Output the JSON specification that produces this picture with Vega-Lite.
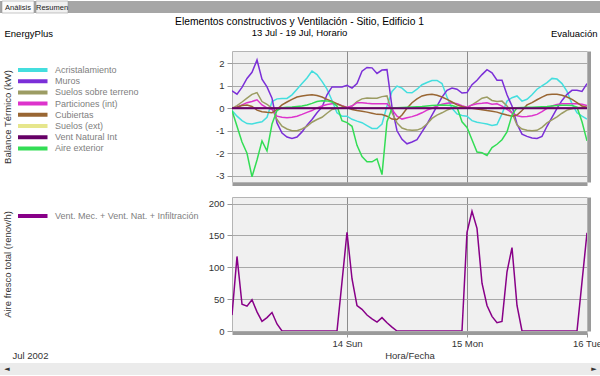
{
  "$schema": "https://vega.github.io/schema/vega-lite/v6.json",
  "padding": 0,
  "background": "white",
  "spacing": 2,
  "config": {"font": "Liberation Sans", "view": {"stroke": null}},
  "resolve": {"scale": {"color": "independent", "x": "independent", "y": "independent"}, "legend": {"color": "independent"}},
  "datasets": {
    "pestanas": [{"tab": "Análisis"}, {"tab": "Resumen"}],
    "barra": [{"b": "◄"}, {"b": "►"}],
    "horas": [
      {"t":"2002-07-13T01:00","Acristalamiento":-0.1,"Muros":0.78,"Suelos sobre terreno":0,"Particiones (int)":0,"Cubiertas":0,"Suelos (ext)":0,"Vent Natural Int":0,"Aire exterior":-0.1,"ach":25},
      {"t":"2002-07-13T02:00","Acristalamiento":-0.35,"Muros":0.63,"Suelos sobre terreno":0.12,"Particiones (int)":0.05,"Cubiertas":0.05,"Suelos (ext)":0,"Vent Natural Int":0,"Aire exterior":-0.8,"ach":117},
      {"t":"2002-07-13T03:00","Acristalamiento":-0.55,"Muros":0.93,"Suelos sobre terreno":0.28,"Particiones (int)":0.15,"Cubiertas":0.12,"Suelos (ext)":0,"Vent Natural Int":0,"Aire exterior":-1.5,"ach":42},
      {"t":"2002-07-13T04:00","Acristalamiento":-0.68,"Muros":1.33,"Suelos sobre terreno":0.45,"Particiones (int)":0.25,"Cubiertas":0.15,"Suelos (ext)":0,"Vent Natural Int":0,"Aire exterior":-2.0,"ach":39},
      {"t":"2002-07-13T05:00","Acristalamiento":-0.7,"Muros":1.6,"Suelos sobre terreno":0.62,"Particiones (int)":0.3,"Cubiertas":0.08,"Suelos (ext)":0,"Vent Natural Int":0,"Aire exterior":-3.05,"ach":49},
      {"t":"2002-07-13T06:00","Acristalamiento":-0.64,"Muros":2.15,"Suelos sobre terreno":0.7,"Particiones (int)":0.38,"Cubiertas":-0.08,"Suelos (ext)":0,"Vent Natural Int":0,"Aire exterior":-2.3,"ach":30},
      {"t":"2002-07-13T07:00","Acristalamiento":-0.6,"Muros":1.3,"Suelos sobre terreno":0.3,"Particiones (int)":0.15,"Cubiertas":-0.15,"Suelos (ext)":0,"Vent Natural Int":0,"Aire exterior":-1.45,"ach":15},
      {"t":"2002-07-13T08:00","Acristalamiento":-0.4,"Muros":0.95,"Suelos sobre terreno":0.18,"Particiones (int)":0.02,"Cubiertas":-0.18,"Suelos (ext)":0,"Vent Natural Int":0,"Aire exterior":-1.9,"ach":21},
      {"t":"2002-07-13T09:00","Acristalamiento":0.3,"Muros":0.45,"Suelos sobre terreno":0.0,"Particiones (int)":-0.05,"Cubiertas":-0.2,"Suelos (ext)":0,"Vent Natural Int":0,"Aire exterior":-0.7,"ach":29},
      {"t":"2002-07-13T10:00","Acristalamiento":0.42,"Muros":-0.65,"Suelos sobre terreno":-0.5,"Particiones (int)":-0.35,"Cubiertas":-0.05,"Suelos (ext)":0,"Vent Natural Int":0,"Aire exterior":-0.1,"ach":11},
      {"t":"2002-07-13T11:00","Acristalamiento":0.44,"Muros":-1.1,"Suelos sobre terreno":-0.8,"Particiones (int)":-0.4,"Cubiertas":0.15,"Suelos (ext)":0,"Vent Natural Int":0,"Aire exterior":0.03,"ach":0},
      {"t":"2002-07-13T12:00","Acristalamiento":0.44,"Muros":-1.28,"Suelos sobre terreno":-0.92,"Particiones (int)":-0.42,"Cubiertas":0.28,"Suelos (ext)":0,"Vent Natural Int":0,"Aire exterior":0.05,"ach":0},
      {"t":"2002-07-13T13:00","Acristalamiento":0.6,"Muros":-1.34,"Suelos sobre terreno":-1.0,"Particiones (int)":-0.4,"Cubiertas":0.4,"Suelos (ext)":0,"Vent Natural Int":0,"Aire exterior":0.06,"ach":0},
      {"t":"2002-07-13T14:00","Acristalamiento":0.85,"Muros":-1.28,"Suelos sobre terreno":-1.0,"Particiones (int)":-0.35,"Cubiertas":0.5,"Suelos (ext)":0,"Vent Natural Int":0,"Aire exterior":0.08,"ach":0},
      {"t":"2002-07-13T15:00","Acristalamiento":1.1,"Muros":-1.05,"Suelos sobre terreno":-0.92,"Particiones (int)":-0.27,"Cubiertas":0.55,"Suelos (ext)":0,"Vent Natural Int":0,"Aire exterior":0.1,"ach":0},
      {"t":"2002-07-13T16:00","Acristalamiento":1.35,"Muros":-0.75,"Suelos sobre terreno":-0.8,"Particiones (int)":-0.18,"Cubiertas":0.58,"Suelos (ext)":0,"Vent Natural Int":0,"Aire exterior":0.15,"ach":0},
      {"t":"2002-07-13T17:00","Acristalamiento":1.66,"Muros":-0.5,"Suelos sobre terreno":-0.62,"Particiones (int)":-0.1,"Cubiertas":0.6,"Suelos (ext)":0,"Vent Natural Int":0,"Aire exterior":0.22,"ach":0},
      {"t":"2002-07-13T18:00","Acristalamiento":1.5,"Muros":-0.2,"Suelos sobre terreno":-0.5,"Particiones (int)":0.02,"Cubiertas":0.57,"Suelos (ext)":0,"Vent Natural Int":0,"Aire exterior":0.3,"ach":0},
      {"t":"2002-07-13T19:00","Acristalamiento":1.2,"Muros":0.05,"Suelos sobre terreno":-0.4,"Particiones (int)":0.1,"Cubiertas":0.5,"Suelos (ext)":0,"Vent Natural Int":0,"Aire exterior":0.34,"ach":0},
      {"t":"2002-07-13T20:00","Acristalamiento":0.85,"Muros":0.6,"Suelos sobre terreno":-0.22,"Particiones (int)":0.17,"Cubiertas":0.4,"Suelos (ext)":0,"Vent Natural Int":0,"Aire exterior":0.33,"ach":0},
      {"t":"2002-07-13T21:00","Acristalamiento":0.35,"Muros":0.95,"Suelos sobre terreno":-0.05,"Particiones (int)":0.2,"Cubiertas":0.3,"Suelos (ext)":0,"Vent Natural Int":0,"Aire exterior":0.28,"ach":0},
      {"t":"2002-07-13T22:00","Acristalamiento":-0.2,"Muros":0.95,"Suelos sobre terreno":0.0,"Particiones (int)":0.2,"Cubiertas":0.2,"Suelos (ext)":0,"Vent Natural Int":0,"Aire exterior":0.1,"ach":0},
      {"t":"2002-07-13T23:00","Acristalamiento":-0.35,"Muros":0.95,"Suelos sobre terreno":0.02,"Particiones (int)":0.12,"Cubiertas":0.1,"Suelos (ext)":0,"Vent Natural Int":0,"Aire exterior":-0.55,"ach":77},
      {"t":"2002-07-14T00:00","Acristalamiento":-0.35,"Muros":1.02,"Suelos sobre terreno":0.02,"Particiones (int)":0.05,"Cubiertas":0.03,"Suelos (ext)":0,"Vent Natural Int":0,"Aire exterior":-0.64,"ach":155},
      {"t":"2002-07-14T01:00","Acristalamiento":-0.49,"Muros":0.9,"Suelos sobre terreno":0.1,"Particiones (int)":0.1,"Cubiertas":-0.05,"Suelos (ext)":0,"Vent Natural Int":0,"Aire exterior":-0.8,"ach":82},
      {"t":"2002-07-14T02:00","Acristalamiento":-0.57,"Muros":1.1,"Suelos sobre terreno":0.3,"Particiones (int)":0.25,"Cubiertas":-0.1,"Suelos (ext)":0,"Vent Natural Int":0,"Aire exterior":-1.65,"ach":40},
      {"t":"2002-07-14T03:00","Acristalamiento":-0.64,"Muros":1.65,"Suelos sobre terreno":0.42,"Particiones (int)":0.25,"Cubiertas":-0.13,"Suelos (ext)":0,"Vent Natural Int":0,"Aire exterior":-2.15,"ach":34},
      {"t":"2002-07-14T04:00","Acristalamiento":-0.77,"Muros":1.82,"Suelos sobre terreno":0.46,"Particiones (int)":0.22,"Cubiertas":-0.17,"Suelos (ext)":0,"Vent Natural Int":0,"Aire exterior":-2.38,"ach":25},
      {"t":"2002-07-14T05:00","Acristalamiento":-0.9,"Muros":1.8,"Suelos sobre terreno":0.45,"Particiones (int)":0.2,"Cubiertas":-0.22,"Suelos (ext)":0,"Vent Natural Int":0,"Aire exterior":-2.38,"ach":19},
      {"t":"2002-07-14T06:00","Acristalamiento":-0.9,"Muros":1.55,"Suelos sobre terreno":0.45,"Particiones (int)":0.2,"Cubiertas":-0.27,"Suelos (ext)":0,"Vent Natural Int":0,"Aire exterior":-2.25,"ach":14},
      {"t":"2002-07-14T07:00","Acristalamiento":-0.7,"Muros":1.7,"Suelos sobre terreno":0.52,"Particiones (int)":0.2,"Cubiertas":-0.28,"Suelos (ext)":0,"Vent Natural Int":0,"Aire exterior":-2.95,"ach":21},
      {"t":"2002-07-14T08:00","Acristalamiento":0.1,"Muros":1.72,"Suelos sobre terreno":0.55,"Particiones (int)":0.2,"Cubiertas":-0.35,"Suelos (ext)":0,"Vent Natural Int":0,"Aire exterior":-0.6,"ach":13},
      {"t":"2002-07-14T09:00","Acristalamiento":0.75,"Muros":0.05,"Suelos sobre terreno":-0.2,"Particiones (int)":-0.05,"Cubiertas":-0.48,"Suelos (ext)":0,"Vent Natural Int":0,"Aire exterior":0.0,"ach":6},
      {"t":"2002-07-14T10:00","Acristalamiento":0.99,"Muros":-1.0,"Suelos sobre terreno":-0.65,"Particiones (int)":-0.35,"Cubiertas":-0.5,"Suelos (ext)":0,"Vent Natural Int":0,"Aire exterior":0.03,"ach":0},
      {"t":"2002-07-14T11:00","Acristalamiento":0.9,"Muros":-1.38,"Suelos sobre terreno":-0.88,"Particiones (int)":-0.48,"Cubiertas":-0.3,"Suelos (ext)":0,"Vent Natural Int":0,"Aire exterior":0.04,"ach":0},
      {"t":"2002-07-14T12:00","Acristalamiento":0.7,"Muros":-1.58,"Suelos sobre terreno":-0.95,"Particiones (int)":-0.42,"Cubiertas":0.0,"Suelos (ext)":0,"Vent Natural Int":0,"Aire exterior":0.05,"ach":0},
      {"t":"2002-07-14T13:00","Acristalamiento":0.69,"Muros":-1.5,"Suelos sobre terreno":-0.98,"Particiones (int)":-0.37,"Cubiertas":0.25,"Suelos (ext)":0,"Vent Natural Int":0,"Aire exterior":0.06,"ach":0},
      {"t":"2002-07-14T14:00","Acristalamiento":0.85,"Muros":-1.4,"Suelos sobre terreno":-0.97,"Particiones (int)":-0.3,"Cubiertas":0.42,"Suelos (ext)":0,"Vent Natural Int":0,"Aire exterior":0.07,"ach":0},
      {"t":"2002-07-14T15:00","Acristalamiento":1.05,"Muros":-1.05,"Suelos sobre terreno":-0.88,"Particiones (int)":-0.2,"Cubiertas":0.55,"Suelos (ext)":0,"Vent Natural Int":0,"Aire exterior":0.08,"ach":0},
      {"t":"2002-07-14T16:00","Acristalamiento":1.15,"Muros":-0.7,"Suelos sobre terreno":-0.7,"Particiones (int)":-0.08,"Cubiertas":0.6,"Suelos (ext)":0,"Vent Natural Int":0,"Aire exterior":0.1,"ach":0},
      {"t":"2002-07-14T17:00","Acristalamiento":1.24,"Muros":-0.3,"Suelos sobre terreno":-0.45,"Particiones (int)":0.0,"Cubiertas":0.62,"Suelos (ext)":0,"Vent Natural Int":0,"Aire exterior":0.12,"ach":0},
      {"t":"2002-07-14T18:00","Acristalamiento":1.24,"Muros":0.1,"Suelos sobre terreno":-0.3,"Particiones (int)":0.1,"Cubiertas":0.58,"Suelos (ext)":0,"Vent Natural Int":0,"Aire exterior":0.14,"ach":0},
      {"t":"2002-07-14T19:00","Acristalamiento":1.1,"Muros":0.5,"Suelos sobre terreno":-0.2,"Particiones (int)":0.18,"Cubiertas":0.5,"Suelos (ext)":0,"Vent Natural Int":0,"Aire exterior":0.15,"ach":0},
      {"t":"2002-07-14T20:00","Acristalamiento":0.5,"Muros":0.8,"Suelos sobre terreno":-0.08,"Particiones (int)":0.22,"Cubiertas":0.4,"Suelos (ext)":0,"Vent Natural Int":0,"Aire exterior":0.14,"ach":0},
      {"t":"2002-07-14T21:00","Acristalamiento":0.0,"Muros":0.9,"Suelos sobre terreno":0.0,"Particiones (int)":0.25,"Cubiertas":0.28,"Suelos (ext)":0,"Vent Natural Int":0,"Aire exterior":0.12,"ach":0},
      {"t":"2002-07-14T22:00","Acristalamiento":-0.25,"Muros":0.85,"Suelos sobre terreno":0.03,"Particiones (int)":0.2,"Cubiertas":0.15,"Suelos (ext)":0,"Vent Natural Int":0,"Aire exterior":0.05,"ach":0},
      {"t":"2002-07-14T23:00","Acristalamiento":-0.32,"Muros":0.68,"Suelos sobre terreno":0.03,"Particiones (int)":0.12,"Cubiertas":0.08,"Suelos (ext)":0,"Vent Natural Int":0,"Aire exterior":-0.6,"ach":0},
      {"t":"2002-07-15T00:00","Acristalamiento":-0.35,"Muros":0.7,"Suelos sobre terreno":0.02,"Particiones (int)":0.05,"Cubiertas":0.03,"Suelos (ext)":0,"Vent Natural Int":0,"Aire exterior":-0.85,"ach":155},
      {"t":"2002-07-15T01:00","Acristalamiento":-0.55,"Muros":1.05,"Suelos sobre terreno":0.15,"Particiones (int)":0.15,"Cubiertas":0.0,"Suelos (ext)":0,"Vent Natural Int":0,"Aire exterior":-1.4,"ach":188},
      {"t":"2002-07-15T02:00","Acristalamiento":-0.62,"Muros":1.25,"Suelos sobre terreno":0.3,"Particiones (int)":0.2,"Cubiertas":-0.03,"Suelos (ext)":0,"Vent Natural Int":0,"Aire exterior":-1.95,"ach":161},
      {"t":"2002-07-15T03:00","Acristalamiento":-0.66,"Muros":1.5,"Suelos sobre terreno":0.45,"Particiones (int)":0.22,"Cubiertas":-0.06,"Suelos (ext)":0,"Vent Natural Int":0,"Aire exterior":-1.98,"ach":75},
      {"t":"2002-07-15T04:00","Acristalamiento":-0.7,"Muros":1.72,"Suelos sobre terreno":0.5,"Particiones (int)":0.25,"Cubiertas":-0.1,"Suelos (ext)":0,"Vent Natural Int":0,"Aire exterior":-2.1,"ach":40},
      {"t":"2002-07-15T05:00","Acristalamiento":-0.76,"Muros":1.58,"Suelos sobre terreno":0.35,"Particiones (int)":0.18,"Cubiertas":-0.13,"Suelos (ext)":0,"Vent Natural Int":0,"Aire exterior":-1.75,"ach":23},
      {"t":"2002-07-15T06:00","Acristalamiento":-0.72,"Muros":1.25,"Suelos sobre terreno":0.3,"Particiones (int)":0.2,"Cubiertas":-0.17,"Suelos (ext)":0,"Vent Natural Int":0,"Aire exterior":-1.6,"ach":13},
      {"t":"2002-07-15T07:00","Acristalamiento":-0.25,"Muros":1.25,"Suelos sobre terreno":0.32,"Particiones (int)":0.1,"Cubiertas":-0.24,"Suelos (ext)":0,"Vent Natural Int":0,"Aire exterior":-1.4,"ach":15},
      {"t":"2002-07-15T08:00","Acristalamiento":0.32,"Muros":0.6,"Suelos sobre terreno":0.1,"Particiones (int)":-0.05,"Cubiertas":-0.3,"Suelos (ext)":0,"Vent Natural Int":0,"Aire exterior":-1.05,"ach":93},
      {"t":"2002-07-15T09:00","Acristalamiento":0.47,"Muros":0.1,"Suelos sobre terreno":-0.2,"Particiones (int)":-0.2,"Cubiertas":-0.35,"Suelos (ext)":0,"Vent Natural Int":0,"Aire exterior":-0.3,"ach":131},
      {"t":"2002-07-15T10:00","Acristalamiento":0.55,"Muros":-0.7,"Suelos sobre terreno":-0.75,"Particiones (int)":-0.33,"Cubiertas":-0.3,"Suelos (ext)":0,"Vent Natural Int":0,"Aire exterior":0.03,"ach":40},
      {"t":"2002-07-15T11:00","Acristalamiento":0.32,"Muros":-1.15,"Suelos sobre terreno":-0.92,"Particiones (int)":-0.38,"Cubiertas":-0.1,"Suelos (ext)":0,"Vent Natural Int":0,"Aire exterior":0.04,"ach":0},
      {"t":"2002-07-15T12:00","Acristalamiento":0.4,"Muros":-1.25,"Suelos sobre terreno":-0.98,"Particiones (int)":-0.37,"Cubiertas":0.15,"Suelos (ext)":0,"Vent Natural Int":0,"Aire exterior":0.05,"ach":0},
      {"t":"2002-07-15T13:00","Acristalamiento":0.6,"Muros":-1.32,"Suelos sobre terreno":-1.0,"Particiones (int)":-0.33,"Cubiertas":0.25,"Suelos (ext)":0,"Vent Natural Int":0,"Aire exterior":0.05,"ach":0},
      {"t":"2002-07-15T14:00","Acristalamiento":0.85,"Muros":-1.34,"Suelos sobre terreno":-0.98,"Particiones (int)":-0.27,"Cubiertas":0.38,"Suelos (ext)":0,"Vent Natural Int":0,"Aire exterior":0.06,"ach":0},
      {"t":"2002-07-15T15:00","Acristalamiento":1.0,"Muros":-1.25,"Suelos sobre terreno":-0.85,"Particiones (int)":-0.15,"Cubiertas":0.5,"Suelos (ext)":0,"Vent Natural Int":0,"Aire exterior":0.07,"ach":0},
      {"t":"2002-07-15T16:00","Acristalamiento":1.14,"Muros":-0.8,"Suelos sobre terreno":-0.65,"Particiones (int)":0.0,"Cubiertas":0.6,"Suelos (ext)":0,"Vent Natural Int":0,"Aire exterior":0.08,"ach":0},
      {"t":"2002-07-15T17:00","Acristalamiento":1.33,"Muros":-0.4,"Suelos sobre terreno":-0.52,"Particiones (int)":0.1,"Cubiertas":0.62,"Suelos (ext)":0,"Vent Natural Int":0,"Aire exterior":0.1,"ach":0},
      {"t":"2002-07-15T18:00","Acristalamiento":1.3,"Muros":0.0,"Suelos sobre terreno":-0.38,"Particiones (int)":0.17,"Cubiertas":0.62,"Suelos (ext)":0,"Vent Natural Int":0,"Aire exterior":0.12,"ach":0},
      {"t":"2002-07-15T19:00","Acristalamiento":1.1,"Muros":0.35,"Suelos sobre terreno":-0.22,"Particiones (int)":0.2,"Cubiertas":0.58,"Suelos (ext)":0,"Vent Natural Int":0,"Aire exterior":0.14,"ach":0},
      {"t":"2002-07-15T20:00","Acristalamiento":0.75,"Muros":0.62,"Suelos sobre terreno":-0.08,"Particiones (int)":0.2,"Cubiertas":0.5,"Suelos (ext)":0,"Vent Natural Int":0,"Aire exterior":0.14,"ach":0},
      {"t":"2002-07-15T21:00","Acristalamiento":0.2,"Muros":0.8,"Suelos sobre terreno":-0.02,"Particiones (int)":0.2,"Cubiertas":0.4,"Suelos (ext)":0,"Vent Natural Int":0,"Aire exterior":0.12,"ach":0},
      {"t":"2002-07-15T22:00","Acristalamiento":-0.2,"Muros":0.8,"Suelos sobre terreno":0.03,"Particiones (int)":0.2,"Cubiertas":0.25,"Suelos (ext)":0,"Vent Natural Int":0,"Aire exterior":0.05,"ach":0},
      {"t":"2002-07-15T23:00","Acristalamiento":-0.35,"Muros":0.75,"Suelos sobre terreno":0.03,"Particiones (int)":0.18,"Cubiertas":0.1,"Suelos (ext)":0,"Vent Natural Int":0,"Aire exterior":-0.6,"ach":77},
      {"t":"2002-07-16T00:00","Acristalamiento":-0.48,"Muros":1.1,"Suelos sobre terreno":0.02,"Particiones (int)":0.12,"Cubiertas":0.05,"Suelos (ext)":0,"Vent Natural Int":0,"Aire exterior":-1.45,"ach":154}
    ]
  },
  "vconcat": [
    {
      "width": 368,
      "height": 12,
      "view": {"stroke": null},
      "data": {"name": "pestanas"},
      "layer": [
        {
          "mark": {"type": "rect", "color": "#a6a6a6"},
          "encoding": {
            "x": {"field": "tab", "type": "nominal", "axis": null, "scale": {"type": "band", "domain": ["Análisis", "Resumen"], "range": [-232, 368], "paddingInner": 0, "paddingOuter": 0}}
          }
        },
        {
          "mark": {"type": "rect", "stroke": "#8c8c8c", "strokeWidth": 0.5},
          "encoding": {
            "x": {"field": "tab", "type": "nominal", "axis": null, "scale": {"type": "band", "domain": ["Análisis", "Resumen"], "range": [-230, -164], "paddingInner": 0.06, "paddingOuter": 0}},
            "fill": {"field": "tab", "type": "nominal", "legend": null, "scale": {"domain": ["Análisis", "Resumen"], "range": ["#fbfbfb", "#f0f0f0"]}}
          }
        },
        {
          "mark": {"type": "text", "fontSize": 7.5, "color": "#222", "dy": 1},
          "encoding": {
            "x": {"field": "tab", "type": "nominal", "axis": null, "scale": {"type": "band", "domain": ["Análisis", "Resumen"], "range": [-230, -164], "paddingInner": 0.06, "paddingOuter": 0}},
            "text": {"field": "tab"}
          }
        }
      ],
      "resolve": {"scale": {"x": "independent"}}
    },
    {
      "width": 355,
      "height": 131,
      "view": {"fill": "#f0f0f0", "stroke": "#b4b4b4"},
      "title": {"text": "Elementos constructivos y Ventilación - Sitio, Edificio 1", "subtitle": "13 Jul - 19 Jul, Horario", "anchor": "middle", "frame": "group", "dx": -110, "fontSize": 10.3, "fontWeight": "normal", "color": "#000", "subtitleFontSize": 9.5, "subtitleColor": "#000", "subtitlePadding": 0, "offset": -9},
      "data": {"name": "horas"},
      "transform": [{"fold": ["Acristalamiento", "Muros", "Suelos sobre terreno", "Particiones (int)", "Cubiertas", "Suelos (ext)", "Vent Natural Int", "Aire exterior"], "as": ["serie", "kW"]}],
      "layer": [
        {
          "mark": {"type": "line", "strokeWidth": 1.5, "clip": true},
          "encoding": {
            "x": {"field": "t", "type": "temporal",
              "scale": {"domain": [{"year": 2002, "month": 7, "date": 13, "hours": 1}, {"year": 2002, "month": 7, "date": 16, "hours": 0}]},
              "axis": {"orient": "bottom", "grid": false, "labels": false, "ticks": false, "domain": true, "domainColor": "#9a9a9a", "domainWidth": 3, "offset": 2, "title": " ", "titleFontSize": 8, "titlePadding": 1}},
            "y": {"field": "kW", "type": "quantitative",
              "scale": {"domain": [-3.28, 2.55], "nice": false, "zero": false},
              "axis": {"orient": "left", "values": [-3, -2, -1, 0, 1, 2], "grid": true, "gridColor": "#a8a8a8", "domain": false, "ticks": true, "tickSize": 5, "tickColor": "#999999", "labelFontSize": 9.5, "labelColor": "#333333", "labelPadding": 3, "labelExpr": "toString(datum.value)", "title": "Balance Térmico (kW)", "titleFontSize": 9.5, "titleFontWeight": "normal", "titleColor": "#333333", "titleX": -220, "titleY": 65.5}},
            "color": {"field": "serie", "type": "nominal",
              "scale": {"domain": ["Acristalamiento", "Muros", "Suelos sobre terreno", "Particiones (int)", "Cubiertas", "Suelos (ext)", "Vent Natural Int", "Aire exterior"], "range": ["#44dede", "#7b2fd8", "#9c9c63", "#dd33cc", "#996633", "#e6e68c", "#660066", "#33dd55"]},
              "legend": {"orient": "none", "legendX": -214, "legendY": 14, "title": null, "symbolType": "M-2.5,0H12.5", "symbolSize": 16, "symbolStrokeWidth": 4, "labelFontSize": 9, "labelColor": "#808080", "labelOffset": 28, "rowPadding": 1.2, "clipHeight": 10}}
          }
        },
        {
          "transform": [{"filter": "datum.serie === 'Vent Natural Int'"}],
          "mark": {"type": "line", "strokeWidth": 2, "color": "#660066", "clip": true},
          "encoding": {
            "x": {"field": "t", "type": "temporal",
              "scale": {"domain": [{"year": 2002, "month": 7, "date": 13, "hours": 1}, {"year": 2002, "month": 7, "date": 16, "hours": 0}]},
              "axis": {"orient": "top", "values": [{"year": 2002, "month": 7, "date": 14}, {"year": 2002, "month": 7, "date": 15}], "grid": true, "gridColor": "#8c8c8c", "labels": false, "ticks": false, "domain": false, "title": "EnergyPlus", "titleFontSize": 9.5, "titleFontWeight": "normal", "titleColor": "#000", "titleX": -228, "titleY": -15, "titleAlign": "left", "titleBaseline": "alphabetic"}},
            "y": {"field": "kW", "type": "quantitative",
              "scale": {"domain": [-3.28, 2.55], "nice": false, "zero": false},
              "axis": {"orient": "right", "grid": false, "labels": false, "ticks": false, "domain": true, "domainColor": "#9a9a9a", "domainWidth": 3, "offset": 2, "title": "Evaluación", "titleAngle": 0, "titleFontSize": 9.5, "titleFontWeight": "normal", "titleColor": "#000", "titleX": 8, "titleY": -15, "titleAlign": "right", "titleBaseline": "alphabetic"}}
          }
        }
      ],
      "resolve": {"axis": {"x": "independent", "y": "independent"}}
    },
    {
      "width": 355,
      "height": 134,
      "view": {"fill": "#f0f0f0", "stroke": "#b4b4b4"},
      "data": {"name": "horas"},
      "layer": [
        {
          "mark": {"type": "line", "strokeWidth": 1.5, "clip": true},
          "encoding": {
            "x": {"field": "t", "type": "temporal",
              "scale": {"domain": [{"year": 2002, "month": 7, "date": 13, "hours": 1}, {"year": 2002, "month": 7, "date": 16, "hours": 0}]},
              "axis": {"orient": "bottom", "values": [{"year": 2002, "month": 7, "date": 14}, {"year": 2002, "month": 7, "date": 15}, {"year": 2002, "month": 7, "date": 16}], "format": "%d %a", "grid": false, "labels": true, "labelFontSize": 9.5, "labelColor": "#333333", "labelPadding": 1, "labelFlush": false, "ticks": true, "tickSize": 4, "tickColor": "#999999", "domain": true, "domainColor": "#9a9a9a", "domainWidth": 3, "offset": 2, "title": "Hora/Fecha", "titleFontSize": 9.5, "titleFontWeight": "normal", "titleColor": "#333333", "titlePadding": 3}},
            "y": {"field": "ach", "type": "quantitative",
              "scale": {"domain": [0, 210.3], "nice": false},
              "axis": {"orient": "left", "values": [0, 50, 100, 150, 200], "grid": true, "gridColor": "#a8a8a8", "domain": false, "ticks": true, "tickSize": 5, "tickColor": "#999999", "labelFontSize": 9.5, "labelColor": "#333333", "labelPadding": 3, "title": "Aire fresco total (renov/h)", "titleFontSize": 9.5, "titleFontWeight": "normal", "titleColor": "#333333", "titleX": -220, "titleY": 67}},
            "color": {"datum": "Vent. Mec. + Vent. Nat. + Infiltración", "type": "nominal",
              "scale": {"range": ["#880088"]},
              "legend": {"orient": "none", "legendX": -214, "legendY": 14, "title": null, "symbolType": "M-2.5,0H12.5", "symbolSize": 16, "symbolStrokeWidth": 4, "labelFontSize": 9, "labelColor": "#808080", "labelOffset": 28, "clipHeight": 10}}
          }
        },
        {
          "mark": {"type": "line", "opacity": 0},
          "encoding": {
            "x": {"field": "t", "type": "temporal",
              "scale": {"domain": [{"year": 2002, "month": 7, "date": 13, "hours": 1}, {"year": 2002, "month": 7, "date": 16, "hours": 0}]},
              "axis": {"orient": "top", "values": [{"year": 2002, "month": 7, "date": 14}, {"year": 2002, "month": 7, "date": 15}], "grid": true, "gridColor": "#8c8c8c", "labels": false, "ticks": false, "domain": false, "title": "Jul 2002", "titleFontSize": 9.5, "titleFontWeight": "normal", "titleColor": "#333333", "titleX": -220, "titleY": 161, "titleAlign": "left", "titleBaseline": "alphabetic"}},
            "y": {"field": "ach", "type": "quantitative",
              "scale": {"domain": [0, 210.3], "nice": false},
              "axis": {"orient": "right", "grid": false, "labels": false, "ticks": false, "domain": true, "domainColor": "#9a9a9a", "domainWidth": 3, "offset": 2, "title": null}}
          }
        }
      ],
      "resolve": {"axis": {"x": "independent", "y": "independent"}}
    },
    {
      "width": 368,
      "height": 12,
      "view": {"stroke": null},
      "data": {"name": "barra"},
      "layer": [
        {
          "mark": {"type": "rect", "color": "#ebebeb"},
          "encoding": {
            "x": {"field": "b", "type": "nominal", "axis": null, "scale": {"type": "band", "domain": ["◄", "►"], "range": [-232, 368], "paddingInner": 0, "paddingOuter": 0}}
          }
        },
        {
          "mark": {"type": "text", "fontSize": 7, "font": "DejaVu Sans", "color": "#333"},
          "encoding": {
            "x": {"field": "b", "type": "nominal", "axis": null, "scale": {"type": "point", "domain": ["◄", "►"], "range": [-225, 362], "padding": 0}},
            "text": {"field": "b"}
          }
        }
      ],
      "resolve": {"scale": {"x": "independent"}}
    }
  ]
}
